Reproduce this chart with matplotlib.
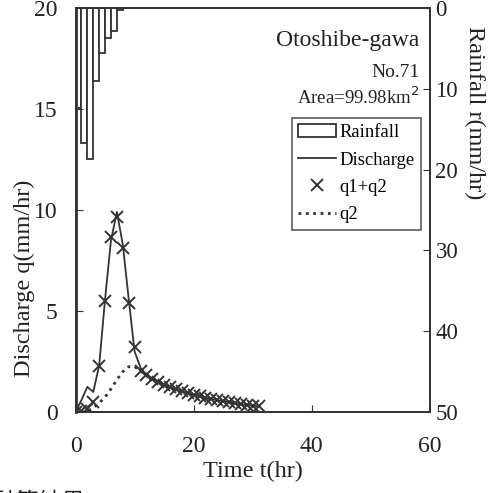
import numpy as np
import matplotlib
matplotlib.use("Agg")
import matplotlib.pyplot as plt

# rainfall (hourly bars, mm/hr)
t_rain = [0, 1, 2, 3, 4, 5, 6, 7]
rain = [12.4, 16.7, 18.7, 9.0, 5.6, 3.7, 2.8, 0.3]

# computed discharge q1+q2 (mm/hr)
t_calc = list(range(0, 32))
q_calc = [0.0, 0.05, 0.15, 0.5, 2.3, 5.5, 8.66, 9.65, 8.1, 5.4, 3.2, 2.05,
          1.82, 1.65, 1.5, 1.36, 1.24, 1.13, 1.03, 0.94, 0.86, 0.78, 0.71,
          0.65, 0.59, 0.54, 0.49, 0.44, 0.40, 0.36, 0.32, 0.29]

# observed discharge
t_obs = list(range(0, 32))
q_obs = [0.0, 0.6, 1.25, 1.0, 2.3, 5.6, 8.5, 9.9, 8.3, 5.6, 3.0, 2.2,
         1.85, 1.66, 1.5, 1.36, 1.24, 1.13, 1.03, 0.94, 0.86, 0.78, 0.71,
         0.65, 0.59, 0.54, 0.49, 0.44, 0.40, 0.36, 0.32, 0.29]

# q2 component
t_q2 = list(range(1, 32))
q2 = [0.0, 0.05, 0.2, 0.45, 0.75, 1.15, 1.6, 2.0, 2.25, 2.25, 2.05,
      1.82, 1.65, 1.5, 1.36, 1.24, 1.13, 1.03, 0.94, 0.86, 0.78, 0.71,
      0.65, 0.59, 0.54, 0.49, 0.44, 0.40, 0.36, 0.32, 0.29]

plt.rcParams['font.family'] = ['Liberation Serif', 'DejaVu Serif']
col = '#333333'
tcol = '#222222'

fig = plt.figure(figsize=(4.97, 4.93), dpi=100)
ax = fig.add_axes([0.152, 0.164, 0.713, 0.820])
ax2 = ax.twinx()

# rainfall bars on the inverted right axis
ax2.bar(t_rain, rain, width=1.0, align='edge', facecolor='white',
        edgecolor=col, linewidth=1.3, label='Rainfall')
ax2.set_ylim(50, 0)
ax2.set_yticks([0, 10, 20, 30, 40, 50])
ax2.tick_params(direction='in', length=5, labelsize=16.5, colors=col,
                labelcolor=tcol, pad=4)
ax2.set_ylabel('Rainfall r(mm/hr)', rotation=270, fontsize=17.5, color=tcol)
ax2.yaxis.set_label_coords(1.155, 0.74)

ax.set_zorder(ax2.get_zorder() + 1)
ax.patch.set_visible(False)

ax.plot(t_obs, q_obs, '-', color=col, linewidth=1.3, label='Discharge')
ax.plot(t_calc, q_calc, 'x', color=col, markersize=8, markeredgewidth=1.4,
        label='q1+q2')
ax.plot(t_q2, q2, ':', color=col, linewidth=2.0, label='q2')

ax.set_xlim(0, 60)
ax.set_ylim(0, 20)
ax.set_xticks([0, 20, 40, 60])
ax.set_yticks([0, 5, 10, 15, 20])
ax.tick_params(direction='in', length=5, labelsize=17, colors=col,
               labelcolor=tcol, pad=13)
ax.tick_params(axis='x', pad=17)
ax.set_xlabel('Time t(hr)', fontsize=17.5, color=tcol, labelpad=3)
ax.set_ylabel('Discharge q(mm/hr)', fontsize=17.5, color=tcol)
ax.yaxis.set_label_coords(-0.115, 0.33)

for a in (ax, ax2):
    for s in a.spines.values():
        s.set_color(col)
        s.set_linewidth(1.3)
ax.spines['left'].set_linewidth(2.0)

ax.text(0.97, 0.92, 'Otoshibe-gawa', transform=ax.transAxes, ha='right',
        va='center', fontsize=17, color=tcol)
ax.text(0.97, 0.84, 'No.71', transform=ax.transAxes, ha='right',
        va='center', fontsize=14, color=tcol)
ax.text(0.97, 0.78, 'Area=99.98km$^2$', transform=ax.transAxes, ha='right',
        va='center', fontsize=13.5, color=tcol)

h1, l1 = ax2.get_legend_handles_labels()
h2, l2 = ax.get_legend_handles_labels()
leg = ax.legend(h1 + h2, l1 + l2, loc='upper right',
                bbox_to_anchor=(0.975, 0.728), fontsize=13.4, frameon=True,
                fancybox=False, edgecolor=col, handlelength=2.0,
                handletextpad=0.2, borderpad=0.35, labelspacing=0.55,
                borderaxespad=0.0)
leg.get_frame().set_linewidth(1.2)

fig.text(-0.013, 0.004, '計算結果', fontsize=16.5, va='top', ha='left',
         family=['Noto Sans CJK JP', 'DejaVu Sans'], color=tcol)

fig.savefig('out.png', dpi=100)
